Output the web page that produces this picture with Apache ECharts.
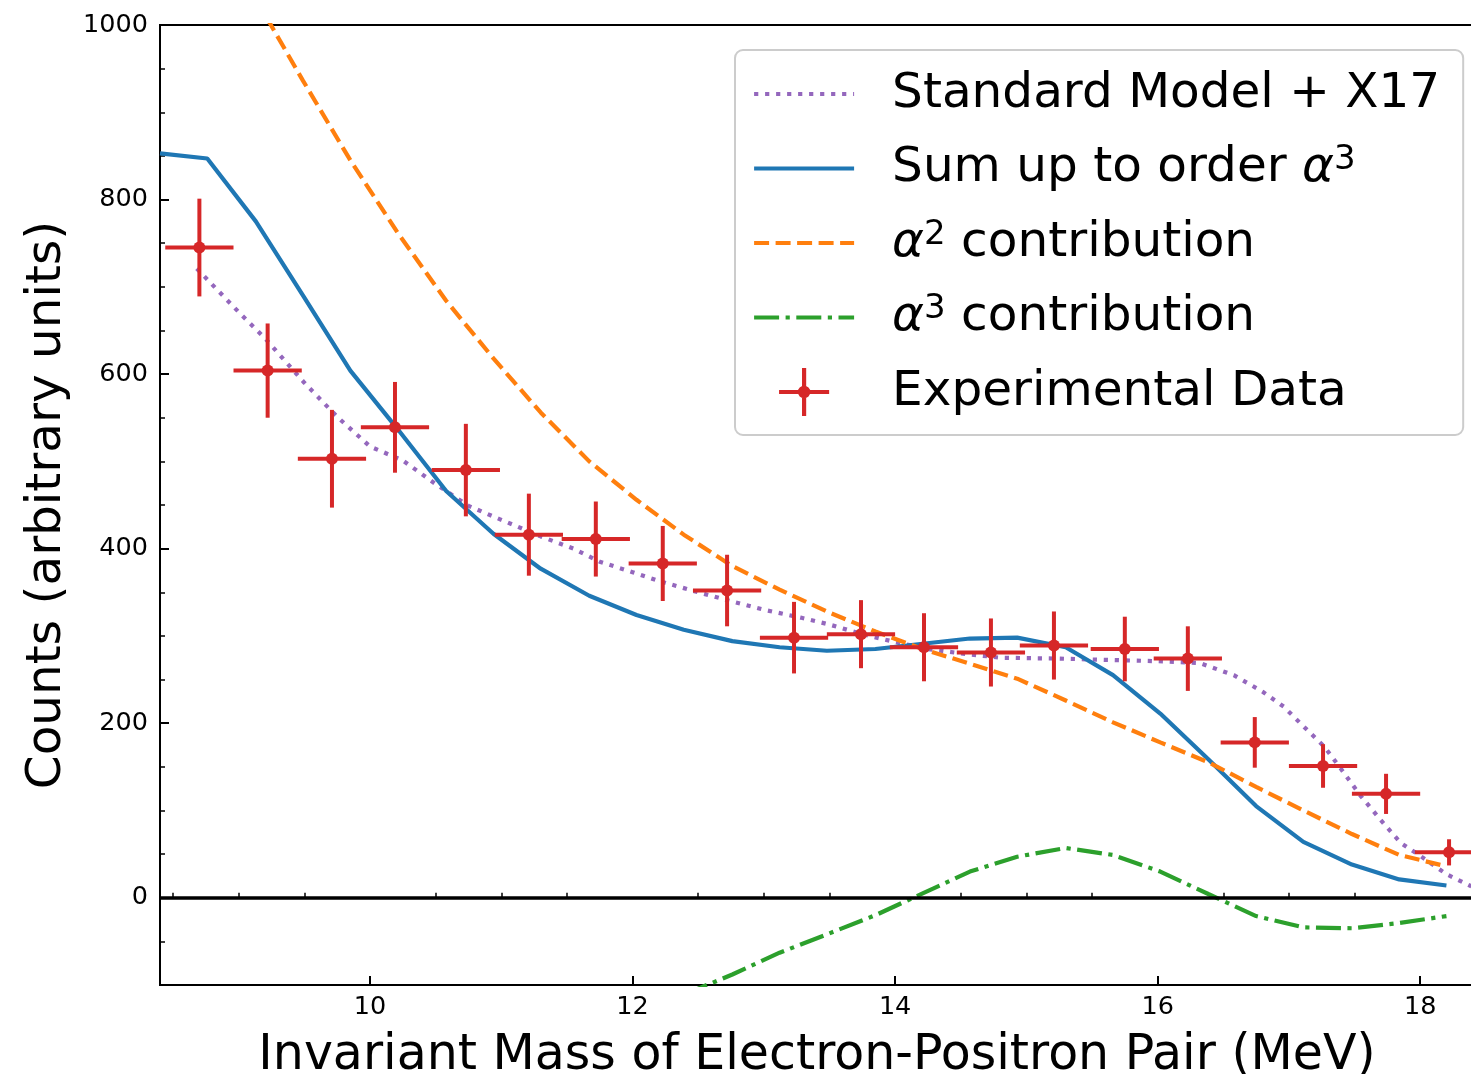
<!DOCTYPE html>
<html>
<head>
<meta charset="utf-8">
<script src="https://cdn.jsdelivr.net/npm/echarts@6/dist/echarts.min.js"></script>
<style>
html,body{margin:0;padding:0;background:#fff;}
#chart{width:1471px;height:1074px;}
</style>
</head>
<body>
<div id="chart"></div>
<script>
// ---------- data ----------
const theoryX = [8.40, 8.76, 9.13, 9.49, 9.85, 10.21, 10.58, 10.94, 11.30, 11.67, 12.03, 12.39, 12.76, 13.12, 13.48, 13.85, 14.21, 14.57, 14.93, 15.30, 15.66, 16.02, 16.39, 16.75, 17.11, 17.48, 17.84, 18.20];
const sumOrder3 = [853, 847, 775, 690, 604, 537, 466, 417, 377, 346, 324, 307, 294, 287, 283, 285, 291, 297, 298, 287, 255, 211, 158, 105, 64, 38, 21, 14];
const alpha2 = [null, null, 1030, 936, 845, 762, 684, 618, 556, 500, 456, 416, 380, 353, 328, 305, 285, 268, 251, 226, 201, 178, 155, 127, 100, 73, 49, 36];
const alpha3 = [null, null, null, null, null, null, null, null, null, null, null, -111, -88, -63, -42, -20, 5, 30, 47, 57, 49, 30, 4, -21, -34, -35, -29, -21];

const smX17X = [8.68, 9.00, 9.20, 9.50, 9.75, 10.00, 10.25, 10.50, 10.75, 11.00, 11.30, 11.55, 11.75, 12.00, 12.20, 12.50, 12.77, 13.00, 13.28, 13.50, 13.75, 14.00, 14.25, 14.50, 14.80, 15.25, 15.75, 16.00, 16.32, 16.58, 16.80, 16.96, 17.10, 17.27, 17.40, 17.55, 17.70, 17.85, 18.00, 18.20, 18.39];
const smX17 = [721, 671, 641, 590, 551, 517, 501, 474, 449, 433, 414, 400, 385, 373, 363, 350, 339, 330, 321, 313, 302, 293, 285, 280, 275, 274, 272, 271, 269, 255, 236, 219, 198, 173, 147, 116, 89, 63, 48, 27, 13];

const dataX = [8.70, 9.22, 9.71, 10.19, 10.73, 11.21, 11.72, 12.23, 12.72, 13.23, 13.74, 14.22, 14.73, 15.21, 15.75, 16.23, 16.74, 17.26, 17.74, 18.22];
const dataY = [745, 604, 503, 539, 490, 416, 411, 383, 352, 298, 302, 287, 281, 289, 285, 274, 178, 151, 119, 52];
const dataYErr = [56, 54, 56, 52, 53, 47, 43, 43, 41, 41, 39, 39, 39, 39, 37, 37, 29, 25, 23, 15];
const dataXErr = [0.26, 0.26, 0.26, 0.26, 0.26, 0.26, 0.26, 0.26, 0.26, 0.26, 0.26, 0.26, 0.26, 0.26, 0.26, 0.26, 0.26, 0.26, 0.26, 0.26];

const xTicks = [10, 12, 14, 16, 18];
const xMinorTicks = [8.5, 9, 9.5, 10.5, 11, 11.5, 12.5, 13, 13.5, 14.5, 15, 15.5, 16.5, 17, 17.5];
const yTicks = [0, 200, 400, 600, 800, 1000];
const yMinorTicks = [-50, 50, 100, 150, 250, 300, 350, 450, 500, 550, 650, 700, 750, 850, 900, 950];

const names = {
  sm: 'Standard Model + X17',
  sum: 'Sum up to order α3',
  a2: 'α2 contribution',
  a3: 'α3 contribution',
  data: 'Experimental Data'
};
// ---------------------------------------------------

function pairs(xs, ys) {
  const out = [];
  for (let i = 0; i < xs.length; i++) if (ys[i] !== null) out.push([xs[i], ys[i]]);
  return out;
}
const errData = dataX.map((x, i) => [x, dataY[i], dataXErr[i], dataYErr[i]]);

const FONT = 'DejaVu Sans';
const LW = 4.2;
const XMIN = 8.4, XMAX = 18.41, YMIN = -100, YMAX = 1000;

const chart = echarts.init(document.getElementById('chart'), null, {renderer: 'canvas'});

const crossIcon = 'path://M-2,-23 L2,-23 L2,-2 L24,-2 L24,2 L2,2 L2,23 L-2,23 L-2,2 L-24,2 L-24,-2 L-2,-2 Z M6,0 A6,6 0 1,1 -6,0 A6,6 0 1,1 6,0 Z';
const hideSym = {opacity: 0};

const option = {
  animation: false,
  backgroundColor: '#ffffff',
  grid: {left: 160, top: 25, right: -3, bottom: 89, containLabel: false, outerBoundsMode: 'none',
    show: true, borderColor: '#000', borderWidth: 2, backgroundColor: 'transparent'},
  legend: {
    orient: 'vertical',
    left: 735, top: 50,
    padding: [19, 23, 18, 17],
    itemWidth: 100, itemHeight: 48, itemGap: 24.5,
    backgroundColor: 'rgba(255,255,255,0.8)',
    borderColor: '#cccccc', borderWidth: 2, borderRadius: 8,
    selectedMode: false,
    lineStyle: {width: LW},
    data: [
      {name: names.sm, itemStyle: hideSym},
      {name: names.sum, itemStyle: hideSym},
      {name: names.a2, itemStyle: hideSym},
      {name: names.a3, itemStyle: hideSym},
      {name: names.data, icon: crossIcon}
    ],
    formatter: function (name) {
      if (name === names.sum) return 'Sum up to order {i|α}{s|3}';
      if (name === names.a2) return '{i|α}{s|2} contribution';
      if (name === names.a3) return '{i|α}{s|3} contribution';
      return name;
    },
    textStyle: {
      fontFamily: FONT, fontSize: 48.5, color: '#000', lineHeight: 50,
      padding: [0, 0, 0, 33],
      rich: {
        i: {fontFamily: FONT, fontSize: 48.5, fontStyle: 'italic', color: '#000', lineHeight: 50},
        s: {fontFamily: FONT, fontSize: 34, color: '#000', lineHeight: 15, verticalAlign: 'top'}
      }
    }
  },
  xAxis: [
    {
      type: 'value', position: 'bottom', min: XMIN, max: XMAX,
      name: 'Invariant Mass of Electron-Positron Pair (MeV)',
      nameLocation: 'middle', nameGap: 47,
      nameTextStyle: {fontFamily: FONT, fontSize: 49, color: '#000'},
      axisLine: {show: true, onZero: false, lineStyle: {color: '#000', width: 2}},
      axisTick: {show: true, inside: true, length: 9, customValues: xTicks, lineStyle: {color: '#000', width: 2}},
      axisLabel: {show: true, customValues: xTicks, margin: 9, fontFamily: FONT, fontSize: 25.5, color: '#000',
        formatter: function (v) { return String(v); }},
      splitLine: {show: false}
    },
    {
      type: 'value', position: 'bottom', min: XMIN, max: XMAX,
      axisLine: {show: false},
      axisTick: {show: true, inside: true, length: 5, customValues: xMinorTicks, lineStyle: {color: '#000', width: 1.5}},
      axisLabel: {show: false},
      splitLine: {show: false}
    }
  ],
  yAxis: [
    {
      type: 'value', position: 'left', min: YMIN, max: YMAX,
      name: 'Counts (arbitrary units)',
      nameLocation: 'middle', nameGap: 80,
      nameTextStyle: {fontFamily: FONT, fontSize: 48.5, color: '#000'},
      axisLine: {show: true, onZero: false, lineStyle: {color: '#000', width: 2}},
      axisTick: {show: true, inside: true, length: 9, customValues: yTicks, lineStyle: {color: '#000', width: 2}},
      axisLabel: {show: true, customValues: yTicks, margin: 12, fontFamily: FONT, fontSize: 25.5, color: '#000',
        formatter: function (v) { return String(v); }},
      splitLine: {show: false}
    },
    {
      type: 'value', position: 'left', min: YMIN, max: YMAX,
      axisLine: {show: false},
      axisTick: {show: true, inside: true, length: 5, customValues: yMinorTicks, lineStyle: {color: '#000', width: 1.5}},
      axisLabel: {show: false},
      splitLine: {show: false}
    }
  ],
  series: [
    {
      name: names.sm, type: 'line', xAxisIndex: 0, yAxisIndex: 0,
      data: pairs(smX17X, smX17), symbol: 'none', showSymbol: false, clip: true, z: 3,
      itemStyle: {color: '#9467bd'},
      lineStyle: {color: '#9467bd', width: LW, type: [4.2, 6.8], cap: 'butt'},
      markLine: {
        silent: true, symbol: 'none', animation: false, label: {show: false},
        lineStyle: {color: '#000', width: 3.5, type: 'solid'},
        data: [{yAxis: 0}]
      }
    },
    {
      name: names.sum, type: 'line', xAxisIndex: 0, yAxisIndex: 0,
      data: pairs(theoryX, sumOrder3), symbol: 'none', showSymbol: false, clip: true, z: 3,
      itemStyle: {color: '#1f77b4'},
      lineStyle: {color: '#1f77b4', width: LW, type: 'solid'}
    },
    {
      name: names.a2, type: 'line', xAxisIndex: 0, yAxisIndex: 0,
      data: pairs(theoryX, alpha2), symbol: 'none', showSymbol: false, clip: true, z: 3,
      itemStyle: {color: '#ff7f0e'},
      lineStyle: {color: '#ff7f0e', width: LW, type: [15, 6.5], cap: 'butt'}
    },
    {
      name: names.a3, type: 'line', xAxisIndex: 0, yAxisIndex: 0,
      data: pairs(theoryX, alpha3), symbol: 'none', showSymbol: false, clip: true, z: 3,
      itemStyle: {color: '#2ca02c'},
      lineStyle: {color: '#2ca02c', width: LW, type: [25, 6.5, 4.2, 6.5], cap: 'butt'}
    },
    {
      name: names.data, type: 'custom', xAxisIndex: 0, yAxisIndex: 0, clip: true, z: 4,
      itemStyle: {color: '#d62728'},
      data: errData,
      encode: {x: 0, y: 1},
      renderItem: function (params, api) {
        const x = api.value(0), y = api.value(1), ex = api.value(2), ey = api.value(3);
        const c = api.coord([x, y]);
        const l = api.coord([x - ex, y]), r = api.coord([x + ex, y]);
        const t = api.coord([x, y + ey]), b = api.coord([x, y - ey]);
        const st = {stroke: '#d62728', lineWidth: 4, fill: null};
        return {
          type: 'group',
          children: [
            {type: 'line', shape: {x1: l[0], y1: l[1], x2: r[0], y2: r[1]}, style: st},
            {type: 'line', shape: {x1: t[0], y1: t[1], x2: b[0], y2: b[1]}, style: st},
            {type: 'circle', shape: {cx: c[0], cy: c[1], r: 6}, style: {fill: '#d62728'}}
          ]
        };
      }
    }
  ]
};
chart.setOption(option);
</script>
</body>
</html>
